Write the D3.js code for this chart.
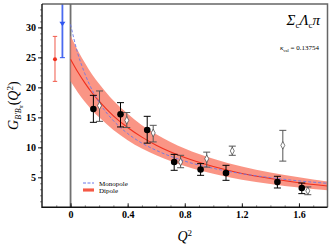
<!DOCTYPE html>
<html>
<head>
<meta charset="utf-8">
<script src="https://cdn.jsdelivr.net/npm/d3@7"></script>
<style>
  html, body { margin: 0; padding: 0; background: #fff; }
  svg { display: block; }
  .serif { font-family: "Liberation Serif", "DejaVu Serif", serif; }
</style>
</head>
<body>
<div id="viz"></div>
<script>
const width = 332;
const height = 249;
const margin = {top: 4, right: 4.5, bottom: 41.7, left: 42};

// fit curves at these Q^2 values
const curveQ2 = [0, 0.05, 0.1, 0.15, 0.2, 0.3, 0.4, 0.5, 0.6, 0.8, 1.0, 1.2, 1.4, 1.6, 1.8];
const dipole = [24.7, 22.6, 20.75, 19.1, 17.7, 15.25, 13.3, 11.7, 10.35, 8.3, 6.8, 5.65, 4.8, 4.1, 3.55];
const dipoleHigh = [28.6, 26.2, 24.1, 22.2, 20.6, 17.8, 15.6, 13.7, 12.2, 9.8, 8.1, 6.8, 5.8, 5.0, 4.3];
const dipoleLow = [21.0, 19.2, 17.6, 16.2, 15.0, 12.9, 11.2, 9.8, 8.7, 6.9, 5.6, 4.6, 3.9, 3.3, 2.85];
const monopole = [30.5, 25.7, 22.3, 19.6, 17.5, 14.45, 12.3, 10.7, 9.5, 7.7, 6.5, 5.6, 4.95, 4.4, 4.0];

// lattice points (filled circles)
const filledQ2 = [0.16, 0.35, 0.537, 0.726, 0.911, 1.089, 1.449, 1.62];
const filledG = [16.4, 15.5, 12.9, 7.55, 6.3, 5.72, 4.2, 3.22];
const filledLo = [14.17, 13.4, 10.7, 6.17, 5.33, 4.5, 3.22, 2.28];
const filledHi = [18.67, 17.45, 15.17, 8.83, 7.28, 7.0, 5.17, 4.05];

// open diamonds
const openQ2 = [0.203, 0.394, 0.579, 0.771, 0.954, 1.133, 1.487, 1.662];
const openG = [16.95, 14.5, 12.4, 7.55, 8.1, 9.4, 10.33, 2.75];
const openLo = [14.33, 13.3, 10.9, 6.6, 6.7, 8.67, 7.7, 2.1];
const openHi = [19.4, 15.8, 13.67, 8.67, 9.2, 10.2, 12.83, 3.4];

// extrapolated values at Q^2 = 0 (drawn offset to the left)
const dipoleAt0 = {q2: -0.109, g: 24.67, lo: 21.0, hi: 28.5};
const monopoleAt0 = {q2: -0.057, g: 30.6, lo: 24.95, hi: 40};

const xTicks = [0, 0.4, 0.8, 1.2, 1.6];
const yTicks = [5, 10, 15, 20, 25, 30];

const red = '#f0301e';
const band = '#f98270';
const blue = '#2f55f0';

const x = d3.scaleLinear().domain([-0.2, 1.8]).range([margin.left, width - margin.right]);
const y = d3.scaleLinear().domain([0, 33.9]).range([height - margin.bottom, margin.top]);

const svg = d3.select('#viz').append('svg')
  .attr('width', width)
  .attr('height', height)
  .attr('viewBox', [0, 0, width, height]);

svg.append('clipPath').attr('id', 'plot-clip')
  .append('rect')
  .attr('x', margin.left).attr('y', margin.top)
  .attr('width', width - margin.left - margin.right)
  .attr('height', height - margin.top - margin.bottom);

const plot = svg.append('g').attr('clip-path', 'url(#plot-clip)');

// vertical line at Q^2 = 0
plot.append('line')
  .attr('x1', x(0)).attr('x2', x(0))
  .attr('y1', margin.top).attr('y2', height - margin.bottom)
  .attr('stroke', '#707070').attr('stroke-width', 1.8);

const bandData = curveQ2.map((q, i) => ({q, lo: dipoleLow[i], hi: dipoleHigh[i]}));
plot.append('path')
  .datum(bandData)
  .attr('fill', band).attr('fill-opacity', 0.85)
  .attr('d', d3.area()
    .x(d => x(d.q)).y0(d => y(d.lo)).y1(d => y(d.hi))
    .curve(d3.curveMonotoneX));

const line = d3.line().x(d => x(d[0])).y(d => y(d[1])).curve(d3.curveMonotoneX);

plot.append('path')
  .datum(curveQ2.map((q, i) => [q, dipole[i]]))
  .attr('fill', 'none').attr('stroke', red).attr('stroke-width', 1.1)
  .attr('d', line);

plot.append('path')
  .datum(curveQ2.map((q, i) => [q, monopole[i]]))
  .attr('fill', 'none').attr('stroke', '#6a78e8').attr('stroke-width', 0.9)
  .attr('stroke-dasharray', '3,2')
  .attr('d', line);

// error bar helper
const errorBar = (g, q, lo, hi, color, sw, cap) => {
  g.append('line')
    .attr('x1', x(q)).attr('x2', x(q)).attr('y1', y(lo)).attr('y2', y(hi))
    .attr('stroke', color).attr('stroke-width', sw);
  [lo, hi].forEach(v => {
    g.append('line')
      .attr('x1', x(q) - cap).attr('x2', x(q) + cap).attr('y1', y(v)).attr('y2', y(v))
      .attr('stroke', color).attr('stroke-width', sw);
  });
};

// extrapolated points
errorBar(plot, dipoleAt0.q2, dipoleAt0.lo, dipoleAt0.hi, '#f05a4a', 1, 2.2);
plot.append('circle')
  .attr('cx', x(dipoleAt0.q2)).attr('cy', y(dipoleAt0.g)).attr('r', 2)
  .attr('fill', red);

const blueG = plot.append('g');
blueG.append('line')
  .attr('x1', x(monopoleAt0.q2)).attr('x2', x(monopoleAt0.q2))
  .attr('y1', y(monopoleAt0.lo)).attr('y2', y(monopoleAt0.hi))
  .attr('stroke', '#4a6af0').attr('stroke-width', 1.8);
blueG.append('line')
  .attr('x1', x(monopoleAt0.q2) - 2.5).attr('x2', x(monopoleAt0.q2) + 2.5)
  .attr('y1', y(monopoleAt0.lo)).attr('y2', y(monopoleAt0.lo))
  .attr('stroke', blue).attr('stroke-width', 1);
blueG.append('path')
  .attr('transform', `translate(${x(monopoleAt0.q2)},${y(monopoleAt0.g)})`)
  .attr('d', 'M-3,-2L3,-2L0,2.5Z')
  .attr('fill', blue);

// open diamonds
const openG_ = plot.append('g');
openQ2.forEach((q, i) => {
  errorBar(openG_, q, openLo[i], openHi[i], '#555', 1, 3.5);
  openG_.append('path')
    .attr('transform', `translate(${x(q)},${y(openG[i])})`)
    .attr('d', 'M0,-3.8L2,0L0,3.8L-2,0Z')
    .attr('fill', '#fff').attr('stroke', '#444').attr('stroke-width', 0.7);
});

// filled circles
const filledG_ = plot.append('g');
filledQ2.forEach((q, i) => {
  errorBar(filledG_, q, filledLo[i], filledHi[i], '#000', 1, 3.5);
  filledG_.append('circle')
    .attr('cx', x(q)).attr('cy', y(filledG[i])).attr('r', 3.3)
    .attr('fill', '#000');
});

// axes
const fontFam = '"Liberation Serif", "DejaVu Serif", serif';

const yMinor = svg.append('g')
  .attr('transform', `translate(${margin.left},0)`)
  .call(d3.axisLeft(y).tickValues(d3.range(1, 34)).tickSize(2).tickFormat(''));
yMinor.select('.domain').remove();
yMinor.selectAll('line').attr('stroke', '#333').attr('stroke-width', 0.6);

const yAxis = svg.append('g')
  .attr('transform', `translate(${margin.left},0)`)
  .call(d3.axisLeft(y).tickValues(yTicks).tickSize(4).tickPadding(2).tickSizeOuter(0));
yAxis.select('.domain').remove();
yAxis.selectAll('line').attr('stroke-width', 0.9);
yAxis.selectAll('text')
  .style('font-family', fontFam).style('font-size', '10px').style('font-weight', 'bold');

const xMinor = svg.append('g')
  .attr('transform', `translate(0,${height - margin.bottom})`)
  .call(d3.axisBottom(x).tickValues(d3.range(-1, 18).map(d => d / 10)).tickSize(-2).tickFormat(''));
xMinor.select('.domain').remove();
xMinor.selectAll('line').attr('stroke', '#333').attr('stroke-width', 0.6);

const xAxis = svg.append('g')
  .attr('transform', `translate(0,${height - margin.bottom})`)
  .call(d3.axisBottom(x).tickValues(xTicks).tickSize(-4).tickPadding(3.5)
    .tickFormat(d => d === 0 ? '0' : d3.format('.1f')(d)));
xAxis.select('.domain').remove();
xAxis.selectAll('line').attr('stroke-width', 0.9);
xAxis.selectAll('text')
  .style('font-family', fontFam).style('font-size', '10px').style('font-weight', 'bold');

// frame: top/right gray, left/bottom black
const x0 = margin.left, x1 = width - margin.right;
const y0 = margin.top, y1 = height - margin.bottom;
svg.append('path')
  .attr('d', `M${x0},${y0}L${x1},${y0}L${x1},${y1}`)
  .attr('fill', 'none').attr('stroke', '#666').attr('stroke-width', 1.5);
svg.append('path')
  .attr('d', `M${x0},${y0}L${x0},${y1}L${x1},${y1}`)
  .attr('fill', 'none').attr('stroke', '#111').attr('stroke-width', 1.4);

// axis titles
svg.append('text')
  .attr('class', 'serif')
  .attr('text-anchor', 'middle')
  .attr('transform', `translate(${(x0 + x1) / 2},${height - 8})`)
  .style('font-size', '14px').style('font-style', 'italic')
  .html('Q<tspan dy="-5" font-size="9" font-style="normal">2</tspan>');

const yTitle = svg.append('text')
  .attr('class', 'serif')
  .attr('text-anchor', 'middle')
  .attr('transform', `translate(18,${(y0 + y1) / 2}) rotate(-90)`)
  .style('font-size', '14px').style('font-style', 'italic');
yTitle.append('tspan').text('G');
yTitle.append('tspan').attr('dy', 3).attr('font-size', 8).text('B′B');
yTitle.append('tspan').attr('dy', 1.5).attr('font-size', 6).text('π');
yTitle.append('tspan').attr('dy', -4.5).attr('font-style', 'normal').text('(');
yTitle.append('tspan').text('Q');
yTitle.append('tspan').attr('dy', -5).attr('font-size', 9).attr('font-style', 'normal').text('2');
yTitle.append('tspan').attr('dy', 5).attr('font-style', 'normal').text(')');

// title and kappa
const title = svg.append('text')
  .attr('class', 'serif')
  .attr('text-anchor', 'end')
  .attr('x', 320).attr('y', 25)
  .style('font-size', '15px').style('font-style', 'italic');
title.append('tspan').text('Σ');
title.append('tspan').attr('dy', 3).attr('font-size', 9).attr('font-style', 'normal').text('c');
title.append('tspan').attr('dy', -3).text('Λ');
title.append('tspan').attr('dy', 3).attr('font-size', 9).attr('font-style', 'normal').text('c');
title.append('tspan').attr('dy', -3).text('π');

const kappa = svg.append('text')
  .attr('class', 'serif')
  .attr('text-anchor', 'end')
  .attr('x', 319).attr('y', 50)
  .style('font-size', '7px');
kappa.append('tspan').attr('font-style', 'italic').text('κ');
kappa.append('tspan').attr('dy', 1.5).attr('font-size', 4.5).text('val');
kappa.append('tspan').attr('dy', -1.5).text(' = 0.13754');

// legend
const legend = svg.append('g').attr('transform', 'translate(83,183)');
legend.append('line')
  .attr('x1', 0).attr('x2', 11).attr('y1', 0).attr('y2', 0)
  .attr('stroke', '#6a78e8').attr('stroke-width', 1).attr('stroke-dasharray', '3,1.5');
legend.append('line')
  .attr('x1', 0).attr('x2', 11).attr('y1', 7).attr('y2', 7)
  .attr('stroke', band).attr('stroke-width', 3.5);
legend.append('line')
  .attr('x1', 0).attr('x2', 11).attr('y1', 7).attr('y2', 7)
  .attr('stroke', red).attr('stroke-width', 1);
legend.append('text').attr('class', 'serif')
  .attr('x', 16).attr('y', 2.5).style('font-size', '7px').text('Monopole');
legend.append('text').attr('class', 'serif')
  .attr('x', 16).attr('y', 9.5).style('font-size', '7px').text('Dipole');
</script>
</body>
</html>
